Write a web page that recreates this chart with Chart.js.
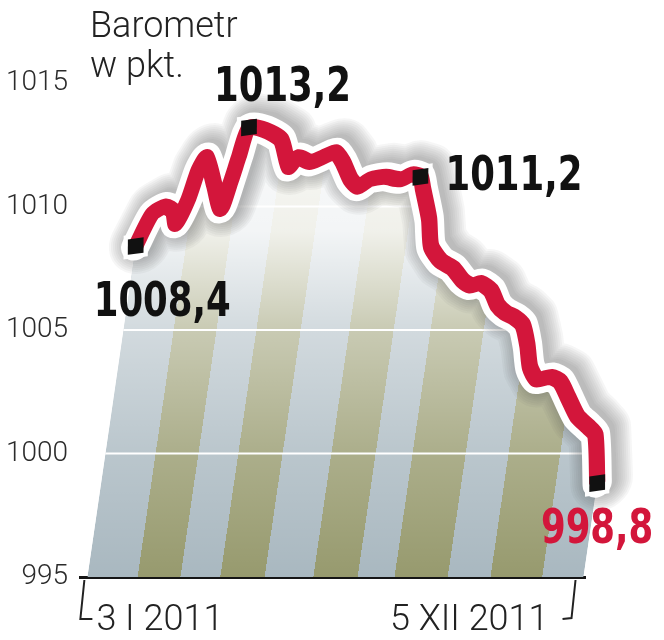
<!DOCTYPE html>
<html><head><meta charset="utf-8">
<script src="https://cdn.jsdelivr.net/npm/chart.js@4.4.1/dist/chart.umd.min.js"></script>
<style>html,body{margin:0;padding:0;background:#fff;}#wrap{width:664px;height:640px;}</style>
</head><body><div id="wrap"><canvas id="c" width="664" height="640"></canvas></div>
<script>
// ---- data ----
const days = [0, 8, 16, 22, 25, 31, 35, 39, 47, 54, 58, 61, 65, 76, 88, 96, 101, 110, 118, 126, 132, 139, 145, 152, 162, 173, 180, 186, 189, 196, 200, 208, 217, 225, 231, 237, 245, 251, 257, 264, 270, 275, 279, 285, 294, 301, 308, 316, 324, 330, 336];
const values = [1008.4, 1009.7, 1010.0, 1009.8, 1009.3, 1010.3, 1011.5, 1012.0, 1010.9, 1009.9, 1011.0, 1012.0, 1013.2, 1013.1, 1012.7, 1011.6, 1012.0, 1011.8, 1012.0, 1012.2, 1011.8, 1011.1, 1010.8, 1011.1, 1011.2, 1011.1, 1011.3, 1011.2, 1010.7, 1009.5, 1008.4, 1007.8, 1007.5, 1007.0, 1006.8, 1006.9, 1006.6, 1006.0, 1005.7, 1005.5, 1005.2, 1004.4, 1003.5, 1003.0, 1003.1, 1002.9, 1002.25, 1001.5, 1001.1, 1000.75, 998.8];
const labeledIdx = [0, 12, 27, 50];
const stripeEdges = [0, 34, 63, 90, 120, 153, 183, 208, 244, 273, 308, 336];
const xLabels = ['3 I 2011', '5 XII 2011'];
const titleLines = ['Barometr', 'w pkt.'];
const yMin = 995, yMax = 1015, yStep = 5;

// ---- styles ----
const K = 0.146;               // shear of the plot plane
const RED = '#d3163b';
const GREY = '#a9b8c0', OLIVE = '#979a6e';
const pts = days.map((d, i) => ({x: d, y: values[i]}));

function stripeFill(c) {
  const ch = c.chart, a = ch.chartArea;
  if (!a) return GREY;
  const xs = ch.scales.x;
  const x0 = xs.getPixelForValue(stripeEdges[0]);
  const x1 = xs.getPixelForValue(stripeEdges[stripeEdges.length - 1]);
  const g = ch.ctx.createLinearGradient(x0, 0, x1, 0);
  const span = x1 - x0;
  for (let i = 0; i < stripeEdges.length - 1; i++) {
    const col = i % 2 === 0 ? GREY : OLIVE;
    const s = (xs.getPixelForValue(stripeEdges[i]) - x0) / span;
    const e = (xs.getPixelForValue(stripeEdges[i + 1]) - x0) / span;
    g.addColorStop(Math.max(0, Math.min(1, s)), col);
    g.addColorStop(Math.max(0, Math.min(1, e)), col);
  }
  return g;
}
function fadeFill(c) {
  const ch = c.chart, a = ch.chartArea;
  if (!a) return 'rgba(255,255,255,0)';
  const g = ch.ctx.createLinearGradient(0, a.bottom, 0, a.top);
  g.addColorStop(0, 'rgba(255,255,255,0)');
  g.addColorStop(0.25, 'rgba(255,255,255,0.2)');
  g.addColorStop(0.5, 'rgba(255,255,255,0.48)');
  g.addColorStop(0.7, 'rgba(255,255,255,0.86)');
  g.addColorStop(1, 'rgba(255,255,255,0.98)');
  return g;
}

const shearPlugin = {
  id: 'shear',
  beforeDatasetsDraw(chart) {
    const {ctx, chartArea: a} = chart;
    ctx.save();
    ctx.transform(1, 0, -K, 1, K * a.bottom, 0);
  },
  afterDatasetDraw(chart, args) {
    const ctx = chart.ctx, a = chart.chartArea;
    if (args.index === 1) {
      const p = chart.getDatasetMeta(1).data;
      // grid lines, kept inside the filled area
      ctx.save();
      ctx.beginPath();
      ctx.moveTo(p[0].x, a.bottom);
      p.forEach(q => ctx.lineTo(q.x, q.y));
      ctx.lineTo(p[p.length - 1].x, a.bottom);
      ctx.closePath();
      ctx.clip();
      const ys = chart.scales.y;
      ctx.strokeStyle = '#ffffff';
      ctx.lineWidth = 2;
      ys.ticks.forEach(t => {
        if (t.value <= ys.min || t.value >= ys.max) return;
        const y = ys.getPixelForValue(t.value);
        ctx.beginPath();
        ctx.moveTo(a.left - 100, y);
        ctx.lineTo(a.right + 100, y);
        ctx.stroke();
      });
      ctx.restore();
      // soft grey halo behind the line: stacked translucent strokes
      const lp = chart.getDatasetMeta(2).data;
      ctx.save();
      ctx.lineJoin = 'round';
      ctx.lineCap = 'round';
      ctx.translate(4, -3);
      ctx.beginPath();
      lp.forEach((q, i) => i ? ctx.lineTo(q.x, q.y) : ctx.moveTo(q.x, q.y));
      for (let w = 62; w >= 30; w -= 4) {
        ctx.strokeStyle = 'rgba(70,70,70,0.05)';
        ctx.lineWidth = w;
        ctx.stroke();
      }
      ctx.restore();
    }
  },
  afterDatasetsDraw(chart) { chart.ctx.restore(); },
  afterDraw(chart) {
    const ctx = chart.ctx, a = chart.chartArea, xs = chart.scales.x;
    // title
    ctx.save();
    ctx.fillStyle = '#222';
    ctx.font = '300 36px Roboto, "Open Sans", sans-serif';
    ctx.textAlign = 'left';
    ctx.textBaseline = 'alphabetic';
    ctx.fillText(titleLines[0], 90, 37);
    ctx.fillText(titleLines[1], 90, 77);
    // x labels with brackets
    const p0 = xs.getPixelForValue(days[0]);
    const pN = xs.getPixelForValue(days[days.length - 1]);
    ctx.strokeStyle = '#222';
    ctx.lineWidth = 2;
    ctx.beginPath();
    ctx.moveTo(p0 - 3, a.bottom + 3); ctx.lineTo(p0 - 7, a.bottom + 42); ctx.lineTo(p0 + 5, a.bottom + 42);
    ctx.moveTo(pN - 8, a.bottom + 3); ctx.lineTo(pN - 12, a.bottom + 41); ctx.lineTo(pN - 21, a.bottom + 42);
    ctx.stroke();
    ctx.font = '300 36px Roboto, "Open Sans", sans-serif';
    ctx.textAlign = 'left';
    ctx.fillText(xLabels[0], p0 + 9, a.bottom + 53);
    ctx.textAlign = 'right';
    ctx.fillText(xLabels[1], pN - 35, a.bottom + 53);
    // value labels
    const meta = chart.getDatasetMeta(3);
    const offs = [
      {dx: -42, dy: 70, align: 'left', color: '#111'},
      {dx: -35, dy: -26, align: 'left', color: '#111'},
      {dx: 25, dy: 13, align: 'left', color: '#111'},
      {dx: 56, dy: 60, align: 'right', color: RED}
    ];
    ctx.font = 'bold 48px "Liberation Sans Narrow", "DejaVu Sans Condensed", "Liberation Sans", sans-serif';
    const sx = 137 / ctx.measureText('1013,2').width;
    labeledIdx.forEach((idx, j) => {
      const p = meta.data[idx];
      const px = p.x + K * (a.bottom - p.y), py = p.y;
      const o = offs[j];
      const txt = values[idx].toFixed(1).replace('.', ',');
      ctx.save();
      ctx.fillStyle = o.color;
      ctx.textAlign = o.align;
      ctx.translate(px + o.dx, py + o.dy);
      ctx.scale(sx, 1);
      ctx.fillText(txt, 0, 0);
      ctx.restore();
    });
    ctx.restore();
  }
};

const isLab = c => labeledIdx.includes(c.dataIndex);
const TENSION = 0.22;

new Chart(document.getElementById('c'), {
  type: 'line',
  data: {
    datasets: [
      {data: pts, order: 4, fill: 'start', backgroundColor: stripeFill, borderWidth: 0, pointRadius: 0, tension: TENSION},
      {data: pts, order: 3, fill: 'start', backgroundColor: fadeFill, borderWidth: 0, pointRadius: 0, tension: TENSION},
      {data: pts, order: 2, fill: false, borderColor: '#ffffff', borderWidth: 29, borderJoinStyle: 'round', borderCapStyle: 'round',
        tension: TENSION, clip: false,
        pointStyle: 'rect', pointRotation: -8, pointRadius: c => isLab(c) ? 17 : 0, pointBackgroundColor: '#ffffff', pointBorderWidth: 0},
      {data: pts, order: 1, fill: false, borderColor: RED, borderWidth: 16, borderJoinStyle: 'round', borderCapStyle: 'butt',
        tension: TENSION, clip: false,
        pointStyle: 'rect', pointRotation: -8, pointRadius: c => isLab(c) ? 11 : 0, pointBackgroundColor: '#111111', pointBorderWidth: 0}
    ]
  },
  options: {
    responsive: false, animation: false, devicePixelRatio: 1, events: [],
    layout: {padding: {top: 83, right: 79, left: 0, bottom: 0}},
    plugins: {legend: {display: false}, tooltip: {enabled: false}, title: {display: false}},
    scales: {
      x: {type: 'linear', min: -5, max: 337, z: 1,
        ticks: {display: false}, grid: {display: false, drawTicks: false},
        border: {display: true, color: '#151515', width: 3},
        afterFit: s => { s.height = 63; }},
      y: {type: 'linear', min: yMin, max: yMax,
        ticks: {stepSize: yStep, padding: 12, color: '#2b2b2b', font: {family: 'Roboto', size: 28, weight: 300},
          callback: v => String(v)},
        grid: {display: false, drawTicks: false}, border: {display: false},
        afterFit: s => { s.width = 80; }}
    }
  },
  plugins: [shearPlugin]
});
</script></body></html>
